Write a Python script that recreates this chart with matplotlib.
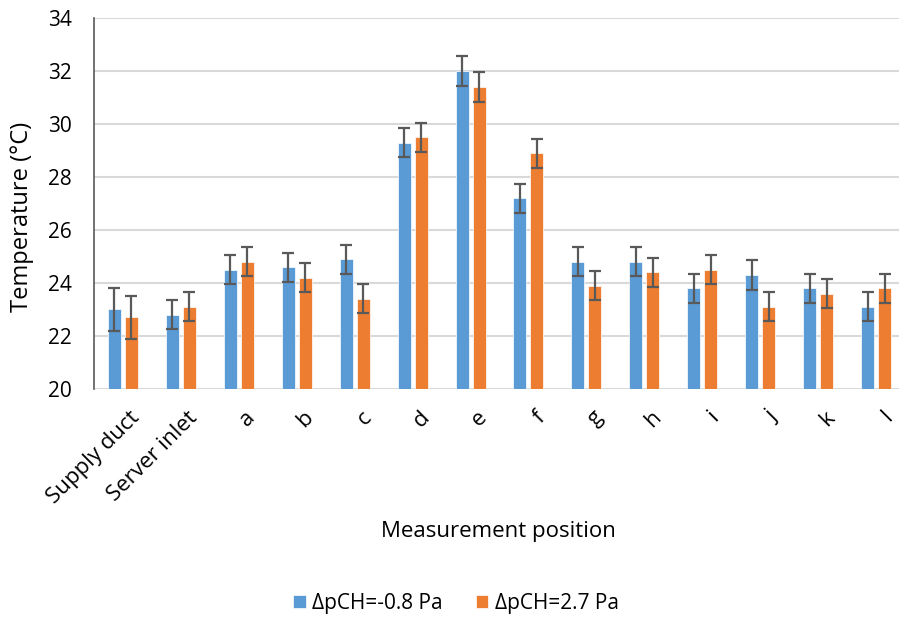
import matplotlib.pyplot as plt
import matplotlib.transforms as mtransforms
import numpy as np

plt.rcParams["font.family"] = ["Open Sans", "DejaVu Sans"]

CATEGORIES = ["Supply duct", "Server inlet", "a", "b", "c", "d", "e", "f",
              "g", "h", "i", "j", "k", "l"]
LOW_P = [23.0, 22.8, 24.5, 24.6, 24.9, 29.3, 32.0, 27.2, 24.8, 24.8, 23.8, 24.3, 23.8, 23.1]
HIGH_P = [22.7, 23.1, 24.8, 24.2, 23.4, 29.5, 31.4, 28.9, 23.9, 24.4, 24.5, 23.1, 23.6, 23.8]
LOW_ERR = [0.8, 0.55, 0.55, 0.55, 0.55, 0.55, 0.57, 0.55, 0.55, 0.55, 0.55, 0.55, 0.55, 0.55]
HIGH_ERR = [0.8, 0.55, 0.55, 0.55, 0.55, 0.55, 0.56, 0.55, 0.55, 0.55, 0.55, 0.55, 0.55, 0.55]
LABELS = ["\u0394pCH=-0.8 Pa", "\u0394pCH=2.7 Pa"]

fig = plt.figure(figsize=(8.99, 6.17), dpi=100)
ax = fig.add_axes([94 / 899, 1 - 389 / 617, 811 / 899, 371 / 617])

x = np.arange(len(CATEGORIES))
width = 0.224
offset = 0.147
err_kw = dict(ecolor="#595959", elinewidth=1.6, capsize=4.5, capthick=1.6)
ax.bar(x - offset, LOW_P, width, yerr=LOW_ERR, color="#5B9BD5",
       edgecolor="white", linewidth=0.5, label=LABELS[0], error_kw=err_kw,
       zorder=3)
ax.bar(x + offset, HIGH_P, width, yerr=HIGH_ERR, color="#ED7D31",
       edgecolor="white", linewidth=0.5, label=LABELS[1], error_kw=err_kw,
       zorder=3)

ax.set_ylim(20, 34)
ax.set_xlim(-0.5, len(CATEGORIES) - 0.5)
ax.set_yticks(np.arange(20, 35, 2))
ax.tick_params(axis="y", labelsize=15, length=0, pad=16)
ax.tick_params(axis="x", labelsize=16, length=0, pad=13)
ax.set_xticks(x)
ax.set_xticklabels(CATEGORIES, rotation=45, ha="right", rotation_mode="anchor")
# nudge the rotated labels a little to the right, as in the original
shift = mtransforms.ScaledTranslation(6 / 100, 0, fig.dpi_scale_trans)
for lbl in ax.get_xticklabels():
    lbl.set_transform(lbl.get_transform() + shift)
ax.yaxis.grid(True, color="#d9d9d9", linewidth=1.5, zorder=0)
ax.set_axisbelow(True)
for side in ["top", "right", "bottom"]:
    ax.spines[side].set_visible(False)
ax.spines["left"].set_color("#595959")
ax.spines["left"].set_linewidth(1.2)

fig.text(22 / 899, 1 - 217 / 617, "Temperature (\u00b0C)", rotation=90,
         ha="center", va="center", fontsize=17)
fig.text(498 / 899, 1 - 531 / 617, "Measurement position",
         ha="center", va="center", fontsize=16)

fig.legend(loc="center", bbox_to_anchor=(456 / 899, 1 - 603 / 617), ncol=2,
           frameon=False, fontsize=15, handlelength=0.6, handleheight=0.6,
           columnspacing=1.6, handletextpad=0.3)

fig.savefig("out.png", dpi=100)
